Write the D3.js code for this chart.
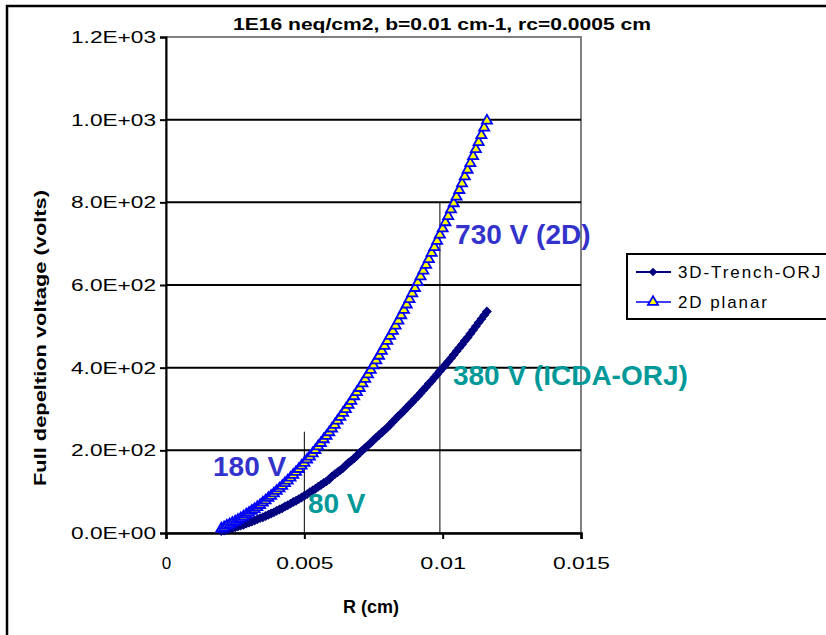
<!DOCTYPE html>
<html><head><meta charset="utf-8">
<script src="https://cdn.jsdelivr.net/npm/d3@7"></script>
<style>
html,body{margin:0;padding:0;background:#fff;}
svg{display:block;font-family:"Liberation Sans",Arial,sans-serif;}
</style></head>
<body><svg id="c" width="826" height="635"></svg>
<script>
// ---- data ----
const title = "1E16 neq/cm2, b=0.01 cm-1, rc=0.0005 cm";
const xLabel = "R (cm)";
const yLabel = "Full depeltion voltage (volts)";
const seriesNames = ["3D-Trench-ORJ", "2D planar"];
const xTicks = [0, 0.005, 0.01, 0.015];
const xTickLabels = ["0", "0.005", "0.01", "0.015"];
const yTicks = [0, 200, 400, 600, 800, 1000, 1200];
const yTickLabels = ["0.0E+00", "2.0E+02", "4.0E+02", "6.0E+02", "8.0E+02", "1.0E+03", "1.2E+03"];
const R = [0.0020,0.0021,0.0022,0.0023,0.0024,0.0025,0.0026,0.0027,0.0028,0.0029,
0.0030,0.0031,0.0032,0.0033,0.0034,0.0035,0.0036,0.0037,0.0038,0.0039,
0.0040,0.0041,0.0042,0.0043,0.0044,0.0045,0.0046,0.0047,0.0048,0.0049,
0.0050,0.0051,0.0052,0.0053,0.0054,0.0055,0.0056,0.0057,0.0058,0.0059,
0.0060,0.0061,0.0062,0.0063,0.0064,0.0065,0.0066,0.0067,0.0068,0.0069,
0.0070,0.0071,0.0072,0.0073,0.0074,0.0075,0.0076,0.0077,0.0078,0.0079,
0.0080,0.0081,0.0082,0.0083,0.0084,0.0085,0.0086,0.0087,0.0088,0.0089,
0.0090,0.0091,0.0092,0.0093,0.0094,0.0095,0.0096,0.0097,0.0098,0.0099,
0.0100,0.0101,0.0102,0.0103,0.0104,0.0105,0.0106,0.0107,0.0108,0.0109,
0.0110,0.0111,0.0112,0.0113,0.0114,0.0115,0.0116];
const trench3D = [5,6,8,10,12,14,16,18,20,23,
25,28,30,33,36,38,41,44,47,50,
54,57,60,64,67,71,75,78,82,86,
90,94,99,103,107,112,116,121,125,130,
137,142,147,152,157,164,170,175,181,187,
194,200,206,212,218,225,231,237,243,249,
255,262,269,276,283,289,296,303,310,317,
324,331,338,346,353,361,368,376,384,392,
399,407,415,423,431,440,448,456,465,473,
482,491,500,509,518,527,536];
const planar2D = [13,16,20,23,27,30,34,38,42,47,
51,56,60,65,70,76,81,87,92,98,
104,110,116,123,129,136,143,150,157,165,
172,180,187,195,203,212,220,229,237,246,
255,264,274,283,293,302,312,322,333,343,
353,364,375,386,397,408,420,431,443,455,
467,479,491,504,516,529,542,555,568,582,
595,609,623,637,651,665,680,694,709,724,
739,754,769,785,800,816,832,848,865,881,
897,914,931,948,965,983,1000];
const markLineX = [0.005, 0.0099];
const markLineTop = [245, 800];
const annotations = [
  {text:"730 V (2D)", r:0.01045, v:699, color:"#3333CC"},
  {text:"380 V (ICDA-ORJ)", r:0.01037, v:358, color:"#009999"},
  {text:"180 V", r:0.0017, v:138, color:"#3333CC"},
  {text:"80 V", r:0.00513, v:48, color:"#009999"}
];

// ---- layout ----
const svg = d3.select("#c");
const L = 166, Rt = 581, T = 37, B = 533;
const x = d3.scaleLinear().domain([0, 0.015]).range([L, Rt]);
const y = d3.scaleLinear().domain([0, 1200]).range([B, T]);

// outer frame
svg.append("rect").attr("x",7).attr("y",6).attr("width",840).attr("height",660)
  .attr("fill","#fff").attr("stroke","#000").attr("stroke-width",2.5);

// plot border (gray)
svg.append("rect").attr("x",L).attr("y",T).attr("width",Rt-L).attr("height",B-T)
  .attr("fill","none").attr("stroke","#808080").attr("stroke-width",2);

// gridlines
svg.append("g").selectAll("line").data(yTicks.filter(v=>v>0 && v<1200)).join("line")
  .attr("x1",L).attr("x2",Rt).attr("y1",d=>y(d)).attr("y2",d=>y(d))
  .attr("stroke","#000").attr("stroke-width",2);

// axes
const yAxis = d3.axisLeft(y).tickValues(yTicks).tickSize(6).tickFormat((d,i)=>yTickLabels[i]);
const gy = svg.append("g").attr("transform",`translate(${L},0)`).call(yAxis);
gy.select(".domain").attr("stroke","#000").attr("stroke-width",2);
gy.selectAll(".tick line").attr("stroke","#000").attr("stroke-width",2);
gy.selectAll(".tick text").attr("font-size",17).attr("fill","#000")
  .attr("font-family","Liberation Sans, Arial").attr("x",-10)
  .attr("textLength",85).attr("lengthAdjust","spacingAndGlyphs");

const xAxis = d3.axisBottom(x).tickValues(xTicks).tickSize(6).tickFormat((d,i)=>xTickLabels[i]);
const gx = svg.append("g").attr("transform",`translate(0,${B})`).call(xAxis);
gx.select(".domain").attr("stroke","#000").attr("stroke-width",2.5);
gx.selectAll(".tick line").attr("stroke","#000").attr("stroke-width",2);
gx.selectAll(".tick text").attr("font-size",17).attr("fill","#000")
  .attr("font-family","Liberation Sans, Arial").attr("y",24)
  .each(function(d,i){ const t=xTickLabels[i]; if(t.length>1){ d3.select(this).attr("textLength", t.length*11.4).attr("lengthAdjust","spacingAndGlyphs"); } });

// marker lines
svg.append("g").selectAll("line").data(markLineX).join("line")
  .attr("x1",d=>x(d)).attr("x2",d=>x(d)).attr("y1",y(0)).attr("y2",(d,i)=>y(markLineTop[i]))
  .attr("stroke","#000").attr("stroke-width",1);

// series
const pts3 = R.map((r,i)=>[r, trench3D[i]]);
const pts2 = R.map((r,i)=>[r, planar2D[i]]);
const line = d3.line().x(d=>x(d[0])).y(d=>y(d[1]));
const diamond = d3.symbol().type(d3.symbolSquare).size(36);
const tri = d3.symbol().type(d3.symbolTriangle).size(44);

svg.append("path").attr("d",line(pts3)).attr("fill","none").attr("stroke","#000080").attr("stroke-width",4.5);
svg.append("g").selectAll("path").data(pts3).join("path")
  .attr("transform",d=>`translate(${x(d[0])},${y(d[1])}) rotate(45)`).attr("d",diamond)
  .attr("fill","#000080").attr("stroke","#000080").attr("stroke-width",1);

svg.append("path").attr("d",line(pts2)).attr("fill","none").attr("stroke","#0000FF").attr("stroke-width",1.5);
svg.append("g").selectAll("path").data(pts2).join("path")
  .attr("transform",d=>`translate(${x(d[0])},${y(d[1])+1})`).attr("d",tri)
  .attr("fill","#FFFF00").attr("stroke","#0000FF").attr("stroke-width",1.8);

// annotations
svg.append("g").selectAll("text").data(annotations).join("text")
  .attr("x",d=>x(d.r)).attr("y",d=>y(d.v)).attr("fill",d=>d.color)
  .attr("font-size",28).attr("font-weight","bold").text(d=>d.text);

// title
svg.append("text").attr("x",442).attr("y",30).attr("text-anchor","middle")
  .attr("font-size",17).attr("font-weight","bold").attr("textLength",418).attr("lengthAdjust","spacingAndGlyphs")
  .text(title);

// axis titles
svg.append("text").attr("x",371).attr("y",613).attr("text-anchor","middle")
  .attr("font-size",18).attr("font-weight","bold").text(xLabel);
svg.append("text").attr("transform","translate(46,338) rotate(-90)").attr("text-anchor","middle")
  .attr("font-size",17).attr("font-weight","bold").attr("textLength",296).attr("lengthAdjust","spacingAndGlyphs")
  .text(yLabel);

// legend
const lg = svg.append("g");
lg.append("rect").attr("x",627).attr("y",254).attr("width",220).attr("height",65)
  .attr("fill","#fff").attr("stroke","#000").attr("stroke-width",2);
const lgY = [272, 302];
lg.append("line").attr("x1",636).attr("x2",671).attr("y1",lgY[0]).attr("y2",lgY[0]).attr("stroke","#000080").attr("stroke-width",2);
lg.append("path").attr("transform",`translate(653,${lgY[0]}) rotate(45)`).attr("d",diamond).attr("fill","#000080");
lg.append("line").attr("x1",636).attr("x2",671).attr("y1",lgY[1]).attr("y2",lgY[1]).attr("stroke","#0000FF").attr("stroke-width",1.5);
lg.append("path").attr("transform",`translate(653,${lgY[1]})`).attr("d",tri).attr("fill","#FFFF00").attr("stroke","#0000FF").attr("stroke-width",1.8);
lg.selectAll("text.lt").data(seriesNames).join("text").attr("class","lt")
  .attr("x",678).attr("y",(d,i)=>lgY[i]+6).attr("font-size",17).attr("letter-spacing",1.9)
  .text(d=>d);
</script></body></html>
